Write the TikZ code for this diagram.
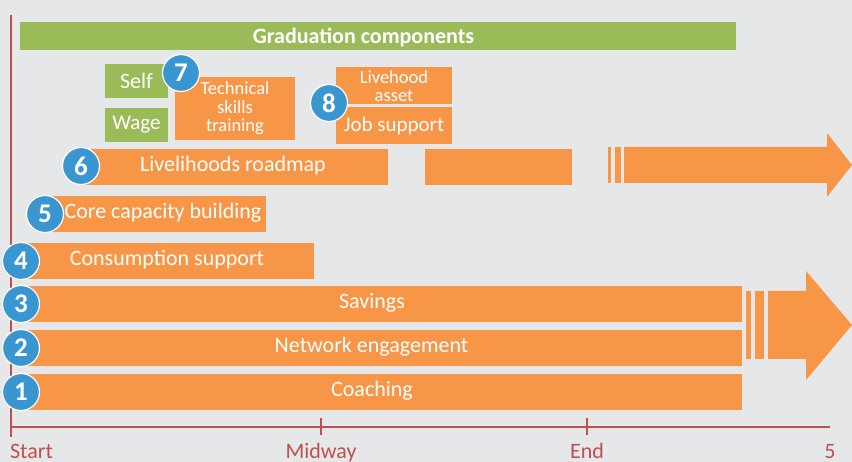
\documentclass[tikz,border=0pt]{standalone}
\usepackage{fontspec}
\setmainfont{Carlito}
\definecolor{bg}{HTML}{E6E7E8}
\definecolor{orng}{HTML}{F79646}
\definecolor{grn}{HTML}{9BBB59}
\definecolor{blu}{HTML}{3A96D0}
\definecolor{axc}{HTML}{C0504D}
\tikzset{
  bar/.style={fill=orng, inner sep=0pt, minimum height=36pt},
  btext/.style={text=white, inner sep=0pt, font=\fontsize{22}{22}\selectfont},
  gbox/.style={fill=grn, inner sep=0pt, text=white, font=\fontsize{22}{22}\selectfont},
  small/.style={fill=orng, inner sep=0pt, text=white, align=center, font=\fontsize{18.5}{18.5}\selectfont},
  num/.style={circle, fill=blu, draw=white, line width=1.2pt, minimum size=37pt, inner sep=0pt, text=white, font=\fontsize{27}{27}\selectfont\bfseries},
  axis/.style={draw=axc, line width=1.6pt},
  axlab/.style={text=axc, font=\fontsize{22}{22}\selectfont, inner sep=0pt, anchor=base},
  arrowfill/.style={fill=orng}
}
\begin{document}
\begin{tikzpicture}[x=1pt,y=-1pt]
\useasboundingbox (0,0) rectangle (852,462);
\fill[bg] (0,0) rectangle (852,462);
% axes
\coordinate (top) at (11,15);
\coordinate (bot) at (11,437);
\coordinate (axl) at (11,427);
\coordinate (axr) at (830,427);
\draw[axis] (top) -- (bot);
\draw[axis] (axl) -- (axr);
\coordinate (mt) at (321,418); \coordinate (mb) at (321,435);
\coordinate (et) at (587,418); \coordinate (eb) at (587,435);
\draw[axis] (mt) -- (mb);
\draw[axis] (et) -- (eb);
\node[axlab] (lstart) at (31.5,458) {Start};
\node[axlab] (lmid) at (321,458) {Midway};
\node[axlab] (lend) at (587,458) {End};
\node[axlab] (lfive) at (830,458) {5};
% green header
\node[gbox, minimum width=716pt, minimum height=28pt] (grad) at (378,36) {};
\node[text=white, font=\fontsize{22}{22}\selectfont\bfseries, inner sep=0pt] (gradt) at (363.5,37) {Graduation components};
% arrows (behind)
\fill[arrowfill] (608,147) rectangle (611,183);
\fill[arrowfill] (615,147) rectangle (621,183);
\fill[arrowfill] (624,147) -- (827,147) -- (827,133) -- (852,165) -- (827,197) -- (827,183) -- (624,183) -- cycle;
\fill[arrowfill] (746,291) rectangle (751,359);
\fill[arrowfill] (755,291) rectangle (764,359);
\fill[arrowfill] (768,291) -- (806,291) -- (806,271) -- (852,325) -- (806,380) -- (806,359) -- (768,359) -- cycle;
% bars
\node[bar, minimum width=722pt] (coach) at (381,392) {};
\node[btext] (coachT) at (372,391) {Coaching};
\node[bar, minimum width=722pt] (net) at (381,348) {};
\node[btext] (netT) at (371.5,347) {Network engagement};
\node[bar, minimum width=722pt] (sav) at (381,304) {};
\node[btext] (savT) at (372,303) {Savings};
\node[bar, minimum width=294pt] (cons) at (167,261) {};
\node[btext] (consT) at (167,260) {Consumption support};
\node[bar, minimum width=221pt] (core) at (155.5,214) {};
\node[btext] (coreT) at (163,213) {Core capacity building};
\node[bar, minimum width=307pt] (road) at (234.5,167) {};
\node[btext] (roadT) at (233,166) {Livelihoods roadmap};
\node[bar, minimum width=147pt] (road2) at (498.5,167) {};
% small boxes
\node[gbox, minimum width=63pt, minimum height=34pt] (self) at (136.5,81) {Self};
\node[gbox, minimum width=63pt, minimum height=34pt, font=\fontsize{21}{21}\selectfont] (wage) at (136.5,125) {Wage};
\node[small, minimum width=120pt, minimum height=63pt] (tech) at (235,108.5) {Technical\\skills\\training};
\node[small, minimum width=116pt, minimum height=37pt] (asset) at (394,86) {Livehood\\asset};
\node[small, minimum width=116pt, minimum height=37pt, font=\fontsize{21}{21}\selectfont] (job) at (394,125.5) {Job support};
% numbers
\node[num] (n1) at (21,392) {1};
\node[num] (n2) at (21,348) {2};
\node[num] (n3) at (21,304) {3};
\node[num] (n4) at (21,261) {4};
\node[num] (n5) at (45,214) {5};
\node[num] (n6) at (81,166) {6};
\node[num] (n7) at (181,73) {7};
\node[num] (n8) at (329,103) {8};
\end{tikzpicture}
\end{document}
